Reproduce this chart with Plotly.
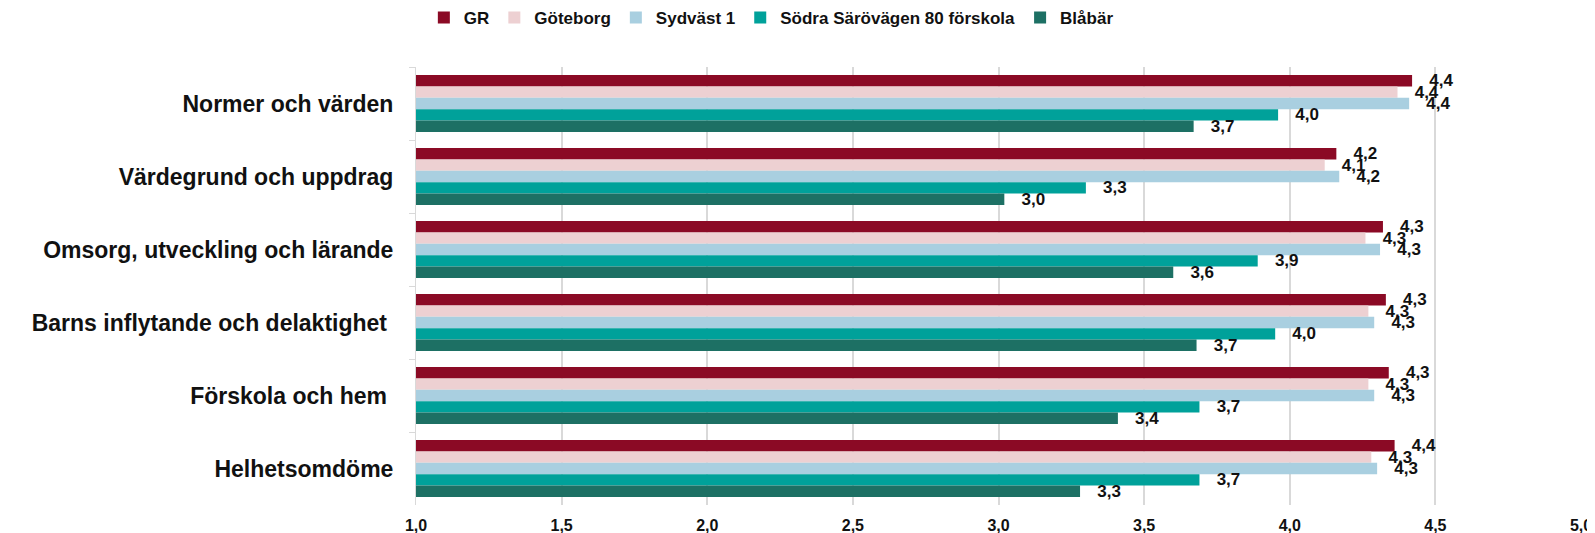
import plotly.graph_objects as go

categories = [
    "Normer och värden",
    "Värdegrund och uppdrag",
    "Omsorg, utveckling och lärande",
    "Barns inflytande och delaktighet ",
    "Förskola och hem ",
    "Helhetsomdöme",
]
series_names = ["GR", "Göteborg", "Sydväst 1", "Södra Särövägen 80 förskola", "Blåbär"]
gr = [4.42, 4.16, 4.32, 4.33, 4.34, 4.36]
goteborg = [4.37, 4.12, 4.26, 4.27, 4.27, 4.28]
sydvast = [4.41, 4.17, 4.31, 4.29, 4.29, 4.30]
sodra = [3.96, 3.30, 3.89, 3.95, 3.69, 3.69]
blabar = [3.67, 3.02, 3.60, 3.68, 3.41, 3.28]
colors = ["#8B0A25", "#EDD0D2", "#A9CFE0", "#00A19A", "#1D7064"]
x_ticks = [1.0, 1.5, 2.0, 2.5, 3.0, 3.5, 4.0, 4.5, 5.0]

FONT = "Liberation Sans"
fig = go.Figure()
for name, vals, col in zip(series_names, [gr, goteborg, sydvast, sodra, blabar], colors):
    fig.add_trace(go.Bar(
        name=name, y=categories, x=vals, orientation="h",
        marker=dict(color=col, line=dict(width=0)),
        texttemplate="\u00a0\u00a0\u00a0%{x:.1f}", textposition="outside",
        textfont=dict(family=FONT, size=17, color="#111111", weight="bold"),
        constraintext="none", cliponaxis=False,
    ))

fig.update_layout(
    width=1587, height=525,
    barmode="group", bargap=0.22, bargroupgap=0,
    separators=", ",
    plot_bgcolor="white", paper_bgcolor="white",
    margin=dict(l=408, r=14, t=59, b=28, autoexpand=False),
    font=dict(family=FONT, color="#111111"),
    legend=dict(orientation="h", x=0.481, xanchor="center", xref="container",
                y=0.981, yref="container", yanchor="middle",
                font=dict(family=FONT, size=17, weight="bold", color="#111111"),
                itemwidth=30, traceorder="normal"),
    showlegend=True,
)
fig.update_xaxes(range=[1, 5], tickvals=x_ticks, tickformat=".1f",
                 showgrid=True, gridcolor="#d9d9d9", gridwidth=2,
                 zeroline=False, showline=False, automargin=False,
                 ticklabelstandoff=9,
                 tickfont=dict(family=FONT, size=16, weight="bold", color="#111111"))
fig.update_yaxes(type="category", autorange="reversed", showgrid=False,
                 showline=True, linecolor="#d9d9d9", linewidth=1,
                 ticks="outside", tickson="boundaries", ticklen=6, tickcolor="#d9d9d9",
                 ticklabelstandoff=17, automargin=False,
                 tickfont=dict(family=FONT, size=23, weight="bold", color="#111111"))

fig.write_html("out.html")
